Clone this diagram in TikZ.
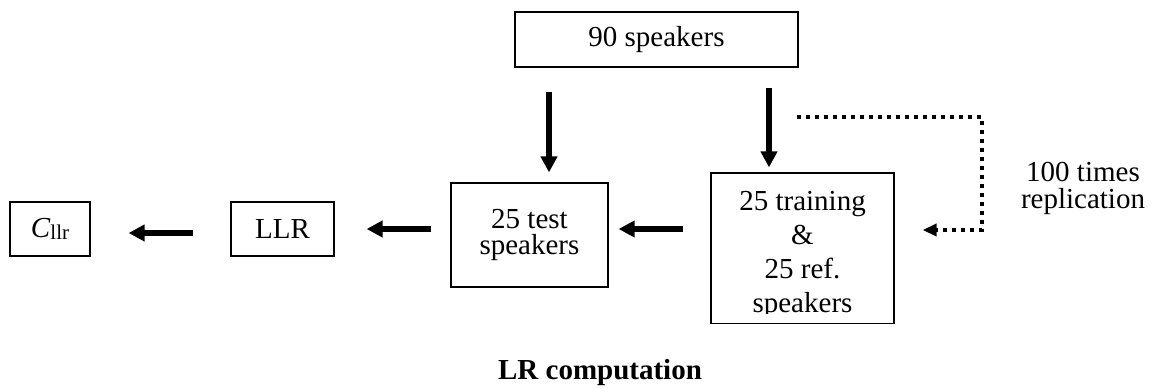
\documentclass[tikz,border=0pt]{standalone}
\usepackage{fontspec}
\setmainfont{Liberation Serif}
\usetikzlibrary{arrows.meta,calc}

\begin{document}
\begin{tikzpicture}[x=0.5pt,y=-0.5pt]
        \tikzset{
            box/.style={draw, line width=0.6pt, inner sep=0pt, align=center,
                font=\fontsize{14.5}{13}\selectfont},
            bigarrow/.style={line width=2.6pt, -{Triangle[length=8pt,width=8pt]}},
            looparrow/.style={line width=2pt, dash pattern=on 2pt off 2.5pt,
                -{Triangle[length=7pt,width=6pt]}}
        }
        \useasboundingbox (0,0) rectangle (1155,389);
        \begin{scope}
            \node[box, minimum width=40pt, minimum height=27pt] (cllr) at (50, 229)
            {\textit{C}\raisebox{-1pt}{\fontsize{10.5}{12}\selectfont llr}};
            \node[box, minimum width=51.5pt, minimum height=27pt] (llr) at (282.5, 229)
            {LLR};
            \node[box, minimum width=78.5pt, minimum height=52pt] (test) at (529.5, 235)
            {25 test\\speakers};
            \node[box, minimum width=141.5pt, minimum height=27.5pt] (top) at (656.5, 39.5)
            {90 speakers};
            \node[box, minimum width=91.5pt, minimum height=75pt, text height=68pt,
                font=\fontsize{14.5}{17}\selectfont] (train) at (802.5, 248)
            {25 training\\\&\\25 ref.\\speakers};
            \fill[white] ([xshift=0.6pt, yshift=0.5pt]train.south west)
                rectangle ([xshift=-0.6pt, yshift=5pt]train.south east);
            \node[align=center, font=\fontsize{14.5}{13.5}\selectfont] (reps) at (1083, 188.5)
            {100 times\\replication};
            \node[font=\fontsize{14.5}{17}\selectfont\bfseries] (caption) at (600, 373)
            {LR computation};
            \coordinate (testin) at ([xshift=9.75pt]test.north);
            \coordinate (trainin) at ([xshift=-16.75pt]train.north);
            \coordinate (loopstart) at (797, 117);
            \coordinate (loopturn) at (982, 230);
        \end{scope}

        \begin{scope}[bigarrow]
            \draw[shorten <=18.5pt, shorten >=19pt] ([yshift=-2pt]llr.west) -- ([yshift=-2pt]cllr.east);
            \draw[shorten <=9.5pt, shorten >=16pt] (test.west |- llr.east) -- (llr.east);
            \draw[shorten <=13.5pt, shorten >=5pt] (train.west |- llr.east) -- (test.east |- llr.east);
            \draw[shorten <=12pt, shorten >=5pt] (testin |- top.south) -- (testin);
            \draw[shorten <=10pt, shorten >=2.5pt] (trainin |- top.south) -- (trainin);
        \end{scope}

        \draw[looparrow, shorten >=14pt] (loopstart) -| (loopturn) -- (train.east |- loopturn);

\end{tikzpicture}
\end{document}
